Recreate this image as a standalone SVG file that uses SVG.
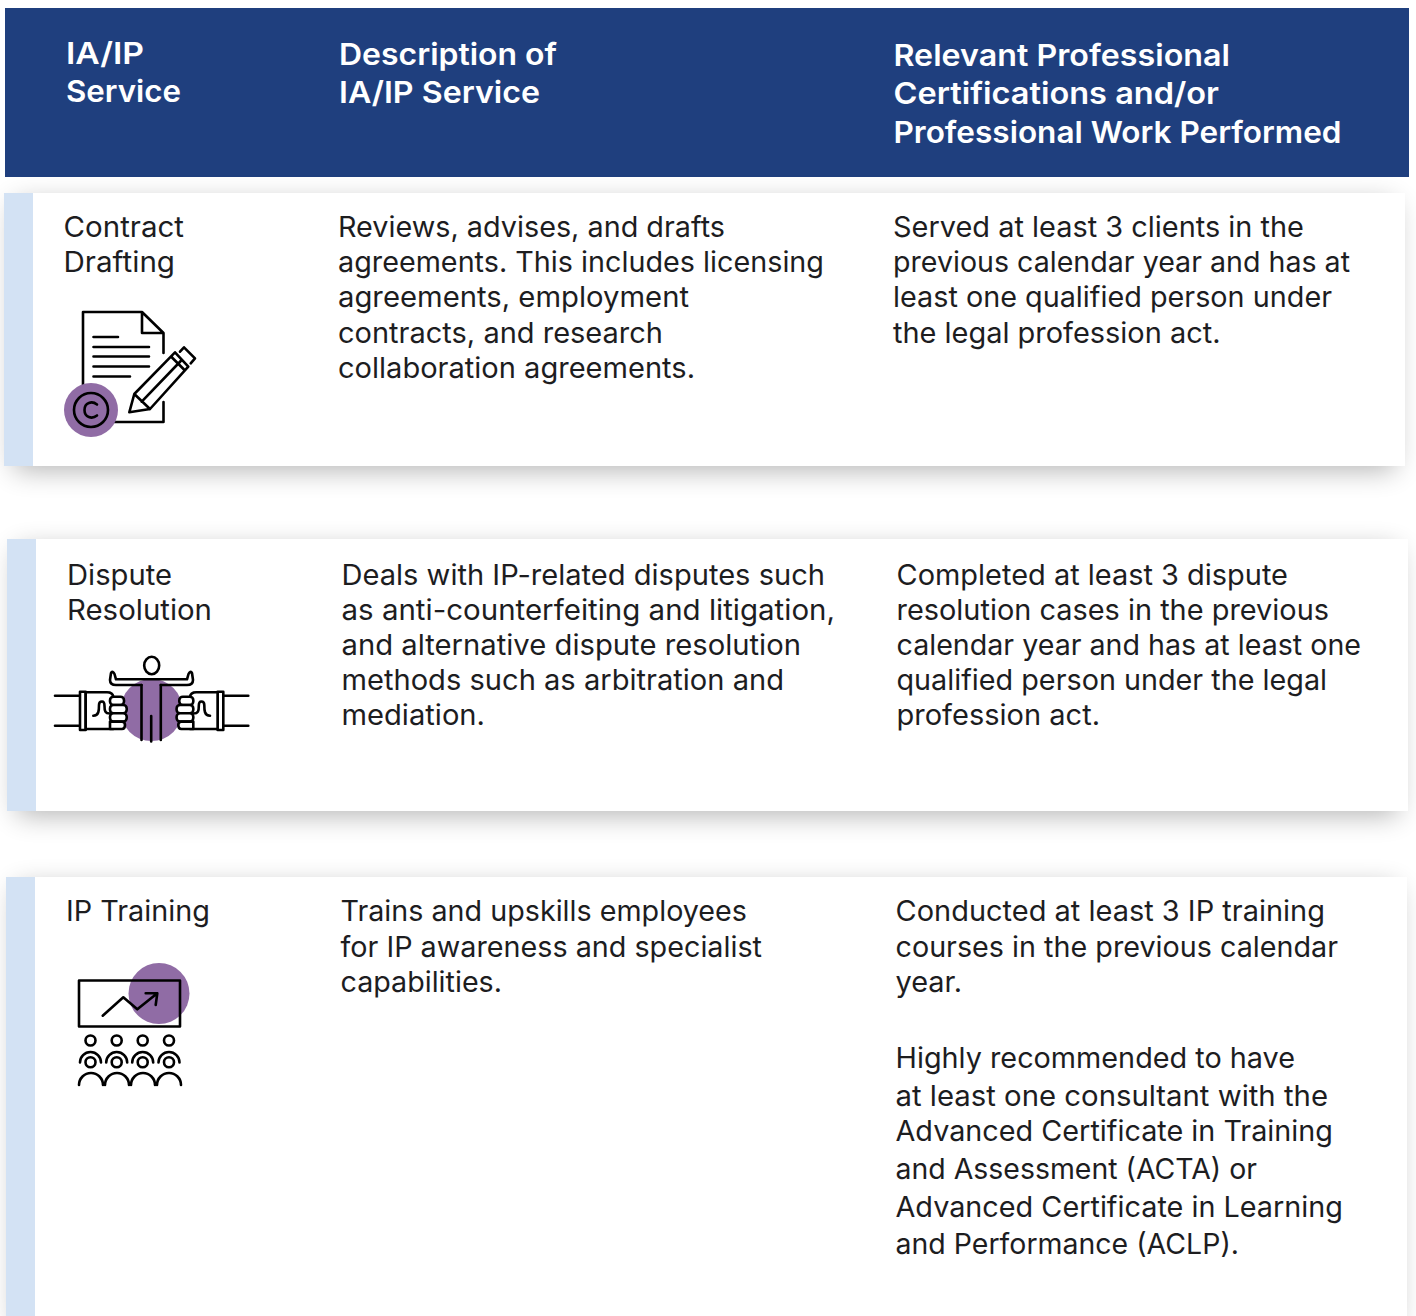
<svg xmlns="http://www.w3.org/2000/svg" width="1416" height="1316" viewBox="0 0 1416 1316">
<style>
text{font-family:"Inter","Liberation Sans",sans-serif;font-size:28.5px;fill:#1d1d1f}
.h{font-weight:600;font-size:30px;fill:#fff}
.i{fill:none;stroke:#000;stroke-width:2.6;stroke-linecap:round;stroke-linejoin:round}
.f{fill:#fff;stroke:#000;stroke-width:2.6;stroke-linejoin:round;stroke-linecap:round}
.p{fill:#906ca5}
.w{fill:#fff}
.s{fill:#d3e2f4}
</style>
<defs>
<filter id="sh" x="-5%" y="-15%" width="110%" height="140%"><feGaussianBlur stdDeviation="14"/></filter>
<g id="fist">
<path class="i" d="M55 695.700H80M55 725.700H80"/>
<rect class="f" x="80" y="691.700" width="5.700" height="38.300"/>
<path class="f" d="M85.700 692.300H107C111 692.300 113 694 113.300 697V729H85.700Z"/>
<path class="i" d="M93.300 715.700C99 715.700 99 710 99 705C99 702 100.500 701.500 102 701.500C104 701.500 104.500 703 104.500 706C104.500 711 105 713.500 110 713.500"/>
<rect class="f" x="110" y="696.700" width="14" height="8.300" rx="3.500"/>
<rect class="f" x="110" y="705" width="16.700" height="8.300" rx="3.500"/>
<rect class="f" x="110" y="713.300" width="16.700" height="8.300" rx="3.500"/>
<path class="f" d="M110 721.600H122C124 721.600 125 723 125 725C125 728 124 729 122 729H110Z"/>
</g>
</defs>
<rect width="1416" height="1316" fill="#fff"/>
<g id="header">
<rect x="5" y="8" width="1404" height="169" fill="#1f3f7e"/>
<text class="h" x="66" y="64" textLength="78" lengthAdjust="spacingAndGlyphs">IA/IP</text>
<text class="h" x="66" y="102" textLength="115" lengthAdjust="spacingAndGlyphs">Service</text>
<text class="h" x="339" y="65" textLength="218" lengthAdjust="spacingAndGlyphs">Description of</text>
<text class="h" x="339" y="103" textLength="201" lengthAdjust="spacingAndGlyphs">IA/IP Service</text>
<text class="h" x="893.500" y="66" textLength="336.500" lengthAdjust="spacingAndGlyphs">Relevant Professional</text>
<text class="h" x="893.500" y="104" textLength="325.500" lengthAdjust="spacingAndGlyphs">Certifications and/or</text>
<text class="h" x="893.500" y="143" textLength="448" lengthAdjust="spacingAndGlyphs">Professional Work Performed</text>
</g>
<g id="card-contract">
<rect x="14" y="203" width="1381" height="267" fill="#000" opacity=".3" filter="url(#sh)"/>
<rect x="4" y="193" width="1401" height="273" class="w"/>
<rect x="4" y="193" width="29" height="273" class="s"/>
<text x="63.500" y="237" textLength="120.500" lengthAdjust="spacingAndGlyphs">Contract</text>
<text x="63.500" y="272" textLength="111.500" lengthAdjust="spacingAndGlyphs">Drafting</text>
<text x="338" y="237" textLength="387" lengthAdjust="spacingAndGlyphs">Reviews, advises, and drafts</text>
<text x="338" y="272" textLength="486" lengthAdjust="spacingAndGlyphs">agreements. This includes licensing</text>
<text x="338" y="307" textLength="351" lengthAdjust="spacingAndGlyphs">agreements, employment</text>
<text x="338" y="343" textLength="325" lengthAdjust="spacingAndGlyphs">contracts, and research</text>
<text x="338" y="378" textLength="357" lengthAdjust="spacingAndGlyphs">collaboration agreements.</text>
<text x="893" y="237" textLength="411" lengthAdjust="spacingAndGlyphs">Served at least 3 clients in the</text>
<text x="893" y="272" textLength="457" lengthAdjust="spacingAndGlyphs">previous calendar year and has at</text>
<text x="893" y="307" textLength="439" lengthAdjust="spacingAndGlyphs">least one qualified person under</text>
<text x="893" y="343" textLength="327.500" lengthAdjust="spacingAndGlyphs">the legal profession act.</text>
<g id="icon-contract">
<path class="i" d="M83 388V312H142L163.500 333V353M142 312V333H163.500M163.500 402V422H110"/>
<path class="i" d="M93.500 337H118M93.500 347H149M93.500 356.500H149M93.500 366.500H149M93.500 376.500H130"/>
<path class="i" d="M134.300 394L175 352.300L188.300 366.700L150 409ZM134.300 394L129.300 412.300L150 409M141.700 401.700L181.700 360M171 356.500L184.500 370"/>
<path class="i" d="M180 351.700L184 347.300L195 358.300L190.700 363.300"/>
<circle class="p" cx="91" cy="410" r="27"/>
<circle class="i" cx="91" cy="410" r="17"/>
<path class="i" d="M97 404.500C92 400.500 84.500 402.500 84.500 410C84.500 417.500 92 419.500 97 415.500" stroke-width="3"/>
</g>
</g>
<g id="card-dispute">
<rect x="17" y="549" width="1381" height="266" fill="#000" opacity=".3" filter="url(#sh)"/>
<rect x="7" y="539" width="1401" height="272" class="w"/>
<rect x="7" y="539" width="29" height="272" class="s"/>
<text x="67" y="585" textLength="105" lengthAdjust="spacingAndGlyphs">Dispute</text>
<text x="67" y="620" textLength="145" lengthAdjust="spacingAndGlyphs">Resolution</text>
<text x="341.500" y="585" textLength="483.500" lengthAdjust="spacingAndGlyphs">Deals with IP-related disputes such</text>
<text x="341.500" y="620" textLength="493.500" lengthAdjust="spacingAndGlyphs">as anti-counterfeiting and litigation,</text>
<text x="341.500" y="655" textLength="459.500" lengthAdjust="spacingAndGlyphs">and alternative dispute resolution</text>
<text x="341.500" y="690" textLength="442.500" lengthAdjust="spacingAndGlyphs">methods such as arbitration and</text>
<text x="341.500" y="725" textLength="143.500" lengthAdjust="spacingAndGlyphs">mediation.</text>
<text x="896.500" y="585" textLength="391.500" lengthAdjust="spacingAndGlyphs">Completed at least 3 dispute</text>
<text x="896.500" y="620" textLength="432.500" lengthAdjust="spacingAndGlyphs">resolution cases in the previous</text>
<text x="896.500" y="655" textLength="464.500" lengthAdjust="spacingAndGlyphs">calendar year and has at least one</text>
<text x="896.500" y="690" textLength="430.500" lengthAdjust="spacingAndGlyphs">qualified person under the legal</text>
<text x="896.500" y="725" textLength="203.500" lengthAdjust="spacingAndGlyphs">profession act.</text>
<g id="icon-dispute">
<circle class="p" cx="151.500" cy="710" r="31"/>
<use href="#fist"/>
<use href="#fist" transform="matrix(-1 0 0 1 303.300 0)"/>
<ellipse class="i" cx="151.700" cy="665.500" rx="7.500" ry="8.700"/>
<path class="i" d="M141.500 685V740M160.800 685V740M151.200 716V741.500"/>
<path class="i" d="M141.500 685H116C112 685 110 683 110 680L111 673C112 671 113.500 672 114.500 674L116 679.300H187L188.500 674C189.500 672 191 671 192 673L193 680C193 683 191 685 187 685H160.800"/>
</g>
</g>
<g id="card-training">
<rect x="16" y="887" width="1381" height="440" fill="#000" opacity=".3" filter="url(#sh)"/>
<rect x="6" y="877" width="1401" height="439" class="w"/>
<rect x="6" y="877" width="29" height="439" class="s"/>
<text x="66" y="921" textLength="144" lengthAdjust="spacingAndGlyphs">IP Training</text>
<text x="340.500" y="921" textLength="406.500" lengthAdjust="spacingAndGlyphs">Trains and upskills employees</text>
<text x="340.500" y="957" textLength="421.500" lengthAdjust="spacingAndGlyphs">for IP awareness and specialist</text>
<text x="340.500" y="992" textLength="161.500" lengthAdjust="spacingAndGlyphs">capabilities.</text>
<text x="895.500" y="921" textLength="429.500" lengthAdjust="spacingAndGlyphs">Conducted at least 3 IP training</text>
<text x="895.500" y="957" textLength="442.500" lengthAdjust="spacingAndGlyphs">courses in the previous calendar</text>
<text x="895.500" y="992" textLength="66.500" lengthAdjust="spacingAndGlyphs">year.</text>
<text x="895.500" y="1068" textLength="399.500" lengthAdjust="spacingAndGlyphs">Highly recommended to have</text>
<text x="895.500" y="1106" textLength="432.500" lengthAdjust="spacingAndGlyphs">at least one consultant with the</text>
<text x="895.500" y="1141" textLength="437.500" lengthAdjust="spacingAndGlyphs">Advanced Certificate in Training</text>
<text x="895.500" y="1179" textLength="361.500" lengthAdjust="spacingAndGlyphs">and Assessment (ACTA) or</text>
<text x="895.500" y="1217" textLength="447.500" lengthAdjust="spacingAndGlyphs">Advanced Certificate in Learning</text>
<text x="895.500" y="1254" textLength="343.500" lengthAdjust="spacingAndGlyphs">and Performance (ACLP).</text>
<g id="icon-training">
<circle class="p" cx="159" cy="993.500" r="30.500"/>
<rect class="i" x="79" y="980.500" width="101" height="46"/>
<path class="i" d="M102.700 1015.700L123.300 997.300L137.300 1009.300L157.300 993.300M145.700 993.300H157.300L155.700 1005"/>
<g class="i">
<circle cx="90.500" cy="1040.500" r="5"/><circle cx="116.700" cy="1040.500" r="5"/><circle cx="142.700" cy="1040.500" r="5"/><circle cx="169" cy="1040.500" r="5"/>
<circle cx="90.500" cy="1062.300" r="5"/><circle cx="116.700" cy="1062.300" r="5"/><circle cx="142.700" cy="1062.300" r="5"/><circle cx="169" cy="1062.300" r="5"/>
<path d="M80 1062.500A10.500 10.500 0 0 1 101 1062.500M106.200 1062.500A10.500 10.500 0 0 1 127.200 1062.500M132.200 1062.500A10.500 10.500 0 0 1 153.200 1062.500M158.500 1062.500A10.500 10.500 0 0 1 179.500 1062.500"/>
<path d="M79 1085A12 12 0 0 1 103 1085M105 1085A12 12 0 0 1 129 1085M131 1085A12 12 0 0 1 155 1085M157 1085A12 12 0 0 1 181 1085"/>
</g>
</g>
</g>
</svg>
